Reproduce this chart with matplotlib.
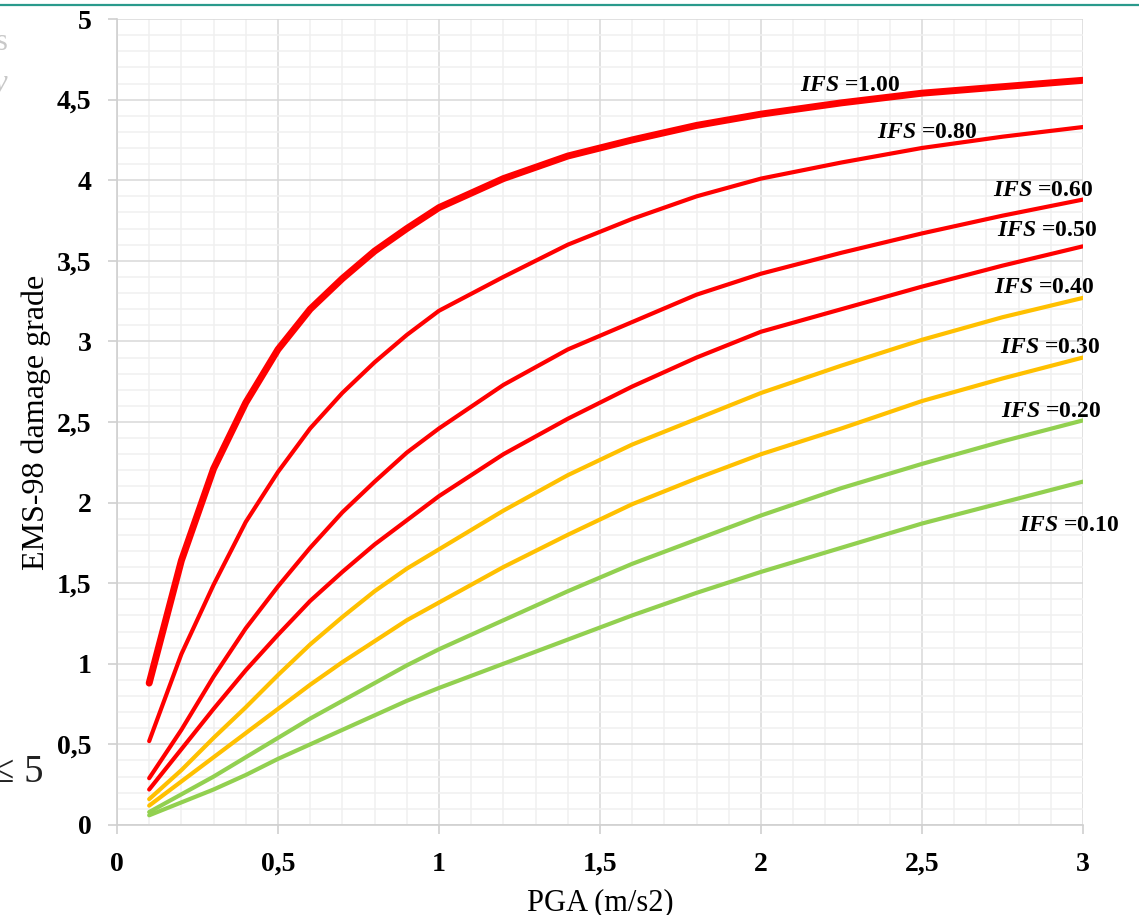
import numpy as np
import matplotlib
matplotlib.use("Agg")
import matplotlib.pyplot as plt
from matplotlib.lines import Line2D
from matplotlib.ticker import MultipleLocator, FuncFormatter

plt.rcParams['font.family'] = ['Liberation Serif', 'DejaVu Serif']
plt.rcParams['mathtext.fontset'] = 'custom'
plt.rcParams['mathtext.it'] = 'Liberation Serif:italic:bold'
plt.rcParams['mathtext.rm'] = 'Liberation Serif:bold'

# PGA values (m/s2)
pga = [0.1, 0.2, 0.3, 0.4, 0.5, 0.6, 0.7, 0.8, 0.9, 1.0,
       1.2, 1.4, 1.6, 1.8, 2.0, 2.25, 2.5, 2.75, 3.0]

# EMS-98 damage grade, one list per IFS value
ifs_100 = [0.88, 1.64, 2.21, 2.62, 2.95, 3.20, 3.39, 3.56, 3.70, 3.83,
           4.01, 4.15, 4.25, 4.34, 4.41, 4.48, 4.54, 4.58, 4.62]
ifs_080 = [0.52, 1.06, 1.49, 1.88, 2.19, 2.46, 2.68, 2.87, 3.04, 3.19,
           3.40, 3.60, 3.76, 3.90, 4.01, 4.11, 4.20, 4.27, 4.33]
ifs_060 = [0.29, 0.59, 0.92, 1.22, 1.48, 1.72, 1.94, 2.13, 2.31, 2.46,
           2.73, 2.95, 3.12, 3.29, 3.42, 3.55, 3.67, 3.78, 3.88]
ifs_050 = [0.22, 0.47, 0.72, 0.96, 1.18, 1.39, 1.57, 1.74, 1.89, 2.04,
           2.30, 2.52, 2.72, 2.90, 3.06, 3.20, 3.34, 3.47, 3.59]
ifs_040 = [0.16, 0.34, 0.54, 0.73, 0.93, 1.12, 1.29, 1.45, 1.59, 1.71,
           1.95, 2.17, 2.36, 2.52, 2.68, 2.85, 3.01, 3.15, 3.27]
ifs_030 = [0.12, 0.27, 0.42, 0.57, 0.72, 0.87, 1.01, 1.14, 1.27, 1.38,
           1.60, 1.80, 1.99, 2.15, 2.30, 2.46, 2.63, 2.77, 2.90]
ifs_020 = [0.08, 0.19, 0.30, 0.42, 0.54, 0.66, 0.77, 0.88, 0.99, 1.09,
           1.27, 1.45, 1.62, 1.77, 1.92, 2.09, 2.24, 2.38, 2.51]
ifs_010 = [0.06, 0.14, 0.22, 0.31, 0.41, 0.50, 0.59, 0.68, 0.77, 0.85,
           1.00, 1.15, 1.30, 1.44, 1.57, 1.72, 1.87, 2.00, 2.13]

ifs_names = ['1.00', '0.80', '0.60', '0.50', '0.40', '0.30', '0.20', '0.10']
series = [ifs_100, ifs_080, ifs_060, ifs_050, ifs_040, ifs_030, ifs_020, ifs_010]

# styling / label placement
red, yellow, green = '#FF0000', '#FFC000', '#92D050'
colors = [red, red, red, red, yellow, yellow, green, green]
widths = [5.0, 3.0, 3.0, 3.0, 3.0, 3.0, 3.0, 3.0]
label_pos = [(2.121, 4.59), (2.360, 4.293), (2.720, 3.939), (2.733, 3.691),
             (2.724, 3.337), (2.742, 2.965), (2.745, 2.568), (2.801, 1.855)]

fig = plt.figure(figsize=(11.39, 9.15), dpi=100)
ax = fig.add_axes([0.1027, 0.0984, 0.8481, 0.8808])

for ys, c, lw in zip(series, colors, widths):
    ax.plot(pga, ys, color=c, lw=lw, solid_capstyle='round',
            solid_joinstyle='round', zorder=3)

for name, (lx, ly) in zip(ifs_names, label_pos):
    ax.text(lx, ly, r'$\mathit{IFS}$ =' + name, fontsize=17, fontweight='bold',
            ha='left', va='center', clip_on=False, zorder=4)

ax.set_xlim(0, 3)
ax.set_ylim(0, 5)
ax.xaxis.set_major_locator(MultipleLocator(0.5))
ax.yaxis.set_major_locator(MultipleLocator(0.5))
ax.xaxis.set_minor_locator(MultipleLocator(0.1))
ax.yaxis.set_minor_locator(MultipleLocator(0.1))

fmt = FuncFormatter(lambda v, p: ('%g' % v).replace('.', ','))
ax.xaxis.set_major_formatter(fmt)
ax.yaxis.set_major_formatter(fmt)

ax.grid(which='major', color='#D9D9D9', lw=1.1, zorder=1)
ax.grid(which='minor', color='#F0F0F0', lw=1.1, zorder=0)
ax.set_axisbelow(True)

for s in ['top', 'right']:
    ax.spines[s].set_visible(False)
for s in ['left', 'bottom']:
    ax.spines[s].set_color('#D0D0D0')
    ax.spines[s].set_linewidth(1.2)

ax.tick_params(which='major', direction='out', length=6.5, width=1.2,
               color='#D0D0D0', labelsize=20)
ax.tick_params(axis='y', pad=12)
ax.tick_params(axis='x', pad=13)
ax.tick_params(which='minor', length=0)
for lab in ax.get_xticklabels() + ax.get_yticklabels():
    lab.set_fontweight('bold')

ax.set_xlabel('PGA (m/s2)', fontsize=22, labelpad=8)
ax.set_ylabel('EMS-98 damage grade', fontsize=23, labelpad=4)

# bits of the surrounding page that were cropped in
fig.add_artist(Line2D([0, 1], [0.9945, 0.9945], color='#2A9A8C', lw=1.6))
fig.text(-0.004, 0.945, 's', fontsize=22, color='#C8C8C8')
fig.text(-0.006, 0.90, 'y', fontsize=22, color='#C8C8C8', style='italic')
fig.text(-0.006, 0.145, '\u2264 5', fontsize=28, color='#222222')

fig.savefig('out.png', dpi=100)
